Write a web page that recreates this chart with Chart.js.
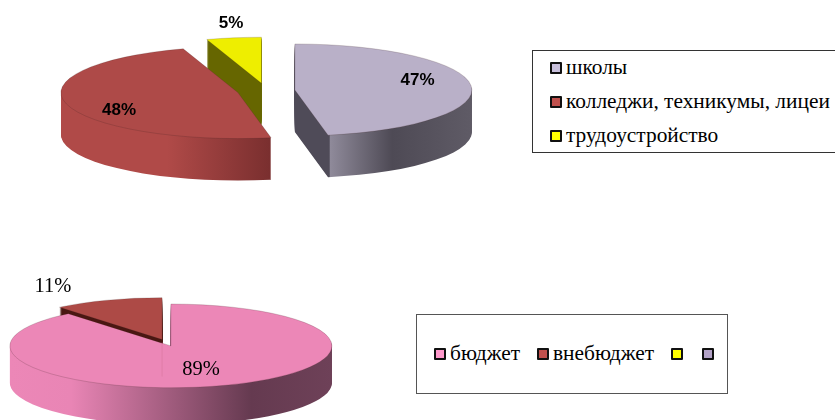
<!DOCTYPE html>
<html>
<head>
<meta charset="utf-8">
<script src="https://cdn.jsdelivr.net/npm/chart.js@4"></script>
<style>
  html, body { margin: 0; padding: 0; background: #fff; overflow: hidden; }
  #page { position: relative; width: 835px; height: 420px; overflow: hidden; }
  canvas { position: absolute; left: 0; top: 0; }
  .pct { position: absolute; transform: translate(-50%, -50%); color: #000; white-space: nowrap; }
  .pct.bold { font: bold 17px "Liberation Sans", sans-serif; }
  .pct.serif { font: 20.5px "Liberation Serif", serif; }
  .legend { position: absolute; box-sizing: border-box; background: #fff; }
  .entry { position: absolute; font: 21.4px "Liberation Serif", serif; color: #000; white-space: nowrap; line-height: 24px; }
  .swatch { position: absolute; box-sizing: border-box; width: 12px; height: 12px; border: 2.5px solid #111; border-radius: 1px; }
</style>
</head>
<body>
<div id="page">
  <canvas id="schoolChart" width="835" height="420"></canvas>
  <canvas id="budgetChart" width="835" height="420"></canvas>
</div>
<script>
// upper pie - where school leavers go
const schoolCategories = ['школы', 'колледжи, техникумы, лицеи', 'трудоустройство'];
const schoolValues = [47, 48, 5];
// lower pie - funding, two legend entries have no name and no share
const budgetCategories = ['бюджет', 'внебюджет', '', ''];
const budgetValues = [89, 11, 0, 0];

const schoolTop = ['#b9b0c8', '#ae4a48', '#eeee00'];
const budgetTop = ['#ec87b7', '#ad4a46', '#eeee00', '#b9b0c8'];
const schoolSwatches = ['#c8c0dc', '#c0504d', '#ffff00'];
const budgetSwatches = ['#ff99cc', '#c0504d', '#ffff00', '#b3a2c7'];

// side wall colours, stops go from the left to the right end of each slice's own ellipse
const schoolSides = [
    [[0, '#4f4b58'], [0.597, '#4f4b58'], [0.6, '#8f8a9a'], [0.775, '#4e4a55'], [1, '#5f5b66']],
    [[0, '#b04a48'], [0.3, '#b04a48'], [0.59, '#7a2f2f'], [1, '#7a2f2f']],
    [[0, '#666600'], [1, '#666600']]
];
const budgetSides = [
    [[0, '#ec87b7'], [0.19, '#e985b5'], [0.75, '#653a50'], [1, '#6e4158']],
    [[0, '#4a1712'], [1, '#4a1712']],
    [[0, '#666600'], [1, '#666600']],
    [[0, '#4f4b58'], [1, '#4f4b58']]
];

// fake 3D: squash the pie and stack copies of every arc for the side wall
const tiltedPie = {
    id: 'tiltedPie',
    beforeDatasetDraw(chart, args, opts) {
        const ctx = chart.ctx;
        const arcs = args.meta.data;
        ctx.save();
        ctx.translate(opts.centerX, opts.centerY);
        ctx.scale(1, opts.squash);
        ctx.translate(-arcs[0].x, -arcs[0].y);

        opts.order.forEach(i => {
            const arc = arcs[i];
            const mid = (arc.startAngle + arc.endAngle) / 2;
            const r = arc.outerRadius;
            const grad = ctx.createLinearGradient(arc.x - r, 0, arc.x + r, 0);
            opts.sides[i].forEach(s => grad.addColorStop(s[0], s[1]));
            const topOptions = arc.options;

            ctx.save();
            ctx.translate(Math.cos(mid) * opts.explode, Math.sin(mid) * opts.explode);
            arc.options = Object.assign({}, topOptions, { backgroundColor: grad, borderWidth: 0 });
            for (let dz = opts.depth; dz >= 1; dz--) {
                ctx.save();
                ctx.translate(0, dz / opts.squash);
                arc.draw(ctx);
                ctx.restore();
            }
            arc.options = topOptions;
            arc.draw(ctx);
            ctx.restore();
        });

        // faint seam on the top face, below the apex of the pulled out slice
        if (opts.seamArc !== undefined) {
            const arc = arcs[opts.seamArc];
            const mid = (arc.startAngle + arc.endAngle) / 2;
            const sx = arc.x + Math.cos(mid) * opts.explode;
            const sy = arc.y + Math.sin(mid) * opts.explode;
            ctx.beginPath();
            ctx.moveTo(sx, sy + 3 / opts.squash);
            ctx.lineTo(sx, sy + opts.depth / opts.squash);
            ctx.strokeStyle = '#d9799f';
            ctx.lineWidth = 1;
            ctx.stroke();
        }
        ctx.restore();
        return false;
    }
};

function makePie(id, labels, values, colors, pieOpts) {
    return new Chart(document.getElementById(id), {
        type: 'pie',
        plugins: [tiltedPie],
        data: {
            labels,
            datasets: [{
                data: values,
                backgroundColor: colors,
                borderColor: 'rgba(60,30,30,0.3)',
                borderWidth: 1
            }]
        },
        options: {
            responsive: false,
            animation: false,
            radius: pieOpts.radius,
            plugins: {
                legend: { display: false },
                tooltip: { enabled: false },
                tiltedPie: pieOpts
            }
        }
    });
}

makePie('schoolChart', schoolCategories, schoolValues, schoolTop, {
    radius: 177, centerX: 266, centerY: 90.7, squash: 0.26, explode: 29, depth: 42,
    order: [2, 1, 0], sides: schoolSides
});
makePie('budgetChart', budgetCategories, budgetValues, budgetTop, {
    radius: 161, centerX: 166.5, centerY: 342.7, squash: 0.26, explode: 13, depth: 37,
    order: [1, 0], sides: budgetSides, seamArc: 1
});

const page = document.getElementById('page');

function addLabel(text, cls, x, y) {
    const el = document.createElement('div');
    el.className = 'pct ' + cls;
    el.textContent = text;
    el.style.left = x + 'px';
    el.style.top = y + 'px';
    page.appendChild(el);
}
addLabel(schoolValues[0] + '%', 'bold', 417.5, 80);
addLabel(schoolValues[1] + '%', 'bold', 119, 110);
addLabel(schoolValues[2] + '%', 'bold', 231, 23);
addLabel(budgetValues[0] + '%', 'serif', 201, 368);
addLabel(budgetValues[1] + '%', 'serif', 53, 285);

function addBox(left, top, width, height, border) {
    const el = document.createElement('div');
    el.className = 'legend';
    el.style.cssText = `left:${left}px;top:${top}px;width:${width}px;height:${height}px;border:${border}`;
    page.appendChild(el);
}
function addEntry(text, color, swatchX, textX, y) {
    const sw = document.createElement('div');
    sw.className = 'swatch';
    sw.style.cssText = `left:${swatchX}px;top:${y - 6}px;background:${color}`;
    page.appendChild(sw);
    const el = document.createElement('div');
    el.className = 'entry';
    el.textContent = text;
    el.style.cssText = `left:${textX}px;top:${y - 13}px`;
    page.appendChild(el);
}

addBox(532, 50, 320, 103, '1.5px solid #333');
[68, 102, 136].forEach((y, i) => addEntry(schoolCategories[i], schoolSwatches[i], 550, 566, y));

addBox(416, 314, 312, 80, '1.5px solid #555');
[[434, 450], [537, 553], [671, 687], [702, 718]].forEach((p, i) => addEntry(budgetCategories[i], budgetSwatches[i], p[0], p[1], 354));
</script>
</body>
</html>
